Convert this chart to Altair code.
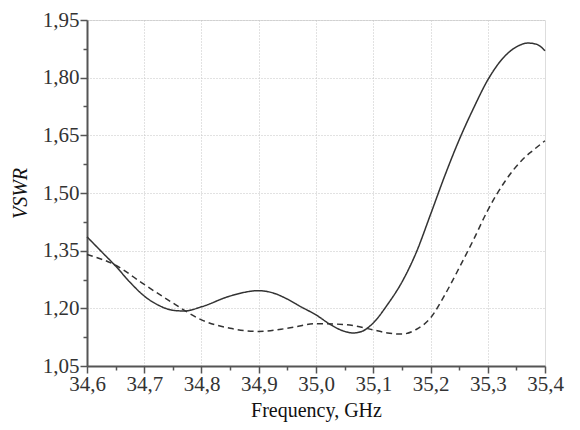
import altair as alt
import pandas as pd

solid_x = [34.60, 34.625, 34.65, 34.675, 34.70, 34.725, 34.75, 34.77, 34.80, 34.85, 34.90, 34.925,
           34.95, 34.975, 35.00, 35.025, 35.05, 35.065, 35.08, 35.10, 35.125, 35.15, 35.175, 35.20,
           35.225, 35.25, 35.275, 35.30, 35.325, 35.35, 35.37, 35.385, 35.40]
solid_y = [1.386, 1.348, 1.310, 1.268, 1.232, 1.208, 1.195, 1.193, 1.204, 1.232, 1.246, 1.240,
           1.224, 1.203, 1.183, 1.158, 1.140, 1.136, 1.140, 1.162, 1.210, 1.268, 1.345, 1.444,
           1.545, 1.638, 1.720, 1.794, 1.848, 1.880, 1.890, 1.887, 1.870]

dash_x = [34.60, 34.65, 34.70, 34.75, 34.80, 34.85, 34.90, 34.95, 35.00, 35.05, 35.10, 35.125,
          35.15, 35.175, 35.20, 35.225, 35.25, 35.275, 35.30, 35.33, 35.36, 35.38, 35.40]
dash_y = [1.340, 1.312, 1.262, 1.214, 1.170, 1.148, 1.140, 1.148, 1.160, 1.158, 1.144, 1.136,
          1.133, 1.145, 1.175, 1.235, 1.305, 1.378, 1.455, 1.530, 1.586, 1.612, 1.636]

x_ticks = [round(34.6 + 0.05 * i, 2) for i in range(17)]
y_ticks = [round(1.05 + 0.075 * i, 3) for i in range(13)]

df = pd.concat([
    pd.DataFrame({"f": solid_x, "v": solid_y, "s": "sim"}),
    pd.DataFrame({"f": dash_x, "v": dash_y, "s": "meas"}),
])

x_minor = "round((datum.value - 34.6) / 0.05) % 2 == 1"
y_minor = "round((datum.value - 1.05) / 0.075) % 2 == 1"

font = "Liberation Serif"

x_axis = alt.Axis(
    values=x_ticks,
    labelExpr=f"{x_minor} ? '' : replace(format(datum.value, '.1f'), '.', ',')",
    title="Frequency, GHz",
    tickSize={"condition": {"test": x_minor, "value": 4}, "value": 7},
    gridOpacity={"condition": {"test": f"{x_minor} || datum.value > 35.35", "value": 0}, "value": 1},
    gridDash=[1, 2], gridColor="#c4c4c4", gridWidth=1,
    domainColor="#555555", domainWidth=2, tickColor="#555555", tickWidth=1.5,
    labelFont=font, labelFontSize=21, labelColor="#333333", labelPadding=0,
    titleFont=font, titleFontSize=20, titleFontWeight="normal", titleColor="#111111", titlePadding=6,
    labelFlush=False, labelOverlap=False,
)
y_axis = alt.Axis(
    values=y_ticks,
    labelExpr=f"{y_minor} ? '' : replace(format(datum.value, '.2f'), '.', ',')",
    title="VSWR",
    tickSize={"condition": {"test": y_minor, "value": 4}, "value": 7},
    gridOpacity={"condition": {"test": y_minor, "value": 0}, "value": 1},
    gridDash=[1, 2], gridColor="#c4c4c4", gridWidth=1,
    domainColor="#555555", domainWidth=2, tickColor="#555555", tickWidth=1.5,
    labelFont=font, labelFontSize=21, labelColor="#333333", labelPadding=1,
    titleFont=font, titleFontSize=20, titleFontWeight="normal", titleFontStyle="italic",
    titleColor="#111111", titlePadding=12,
    labelFlush=False, labelOverlap=False,
)

chart = alt.Chart(df).mark_line(interpolate="monotone", strokeWidth=1.5, color="#333333").encode(
    x=alt.X("f:Q", scale=alt.Scale(domain=[34.6, 35.4], nice=False, zero=False), axis=x_axis),
    y=alt.Y("v:Q", scale=alt.Scale(domain=[1.05, 1.95], nice=False, zero=False), axis=y_axis),
    detail="s:N",
    strokeDash=alt.StrokeDash("s:N", scale=alt.Scale(domain=["sim", "meas"], range=[[1, 0], [6, 4]]), legend=None),
).properties(
    width=458, height=346,
    autosize=alt.AutoSizeParams(type="none"),
    padding={"left": 79, "top": 12, "right": 20, "bottom": 62},
).configure_view(stroke=None).configure(background="white")

chart.save("out.html", embed_options={"renderer": "svg", "actions": False})
